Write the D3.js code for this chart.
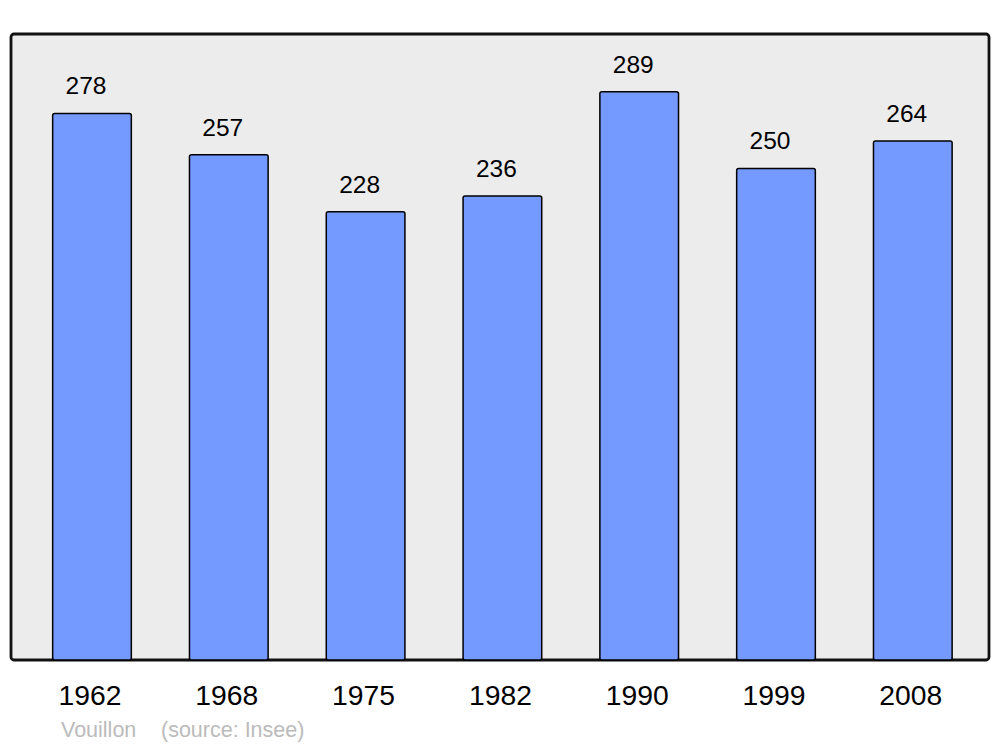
<!DOCTYPE html>
<html>
<head>
<meta charset="utf-8">
<script src="https://cdn.jsdelivr.net/npm/d3@7"></script>
<style>
  body { margin: 0; background: #fff; }
  text { font-family: "Liberation Sans", Arial, sans-serif; }
</style>
</head>
<body>
<div id="chart"></div>
<script>
// data
var years = ["1962", "1968", "1975", "1982", "1990", "1999", "2008"];
var population = [278, 257, 228, 236, 289, 250, 264];
var townName = "Vouillon";
var sourceNote = "(source: Insee)";

var width = 1000, height = 747;

var svg = d3.select("#chart")
  .append("svg")
    .attr("width", width)
    .attr("height", height);

// panel
var panel = {left: 11, top: 34, right: 989, bottom: 660};
svg.append("rect")
  .attr("x", panel.left)
  .attr("y", panel.top)
  .attr("width", panel.right - panel.left)
  .attr("height", panel.bottom - panel.top)
  .attr("rx", 3)
  .attr("fill", "#ececec")
  .attr("stroke", "#111")
  .attr("stroke-width", 2.8);

// scales
var x = d3.scaleBand()
  .domain(years)
  .range([23.6, 981.2])
  .paddingInner(0.425)
  .paddingOuter(0.2125);

var y = d3.scaleLinear()
  .domain([0, 318.4])
  .range([panel.bottom, panel.top]);

var rows = years.map(function(d, i) { return {year: d, value: population[i]}; });

// bars
svg.selectAll(".bar")
  .data(rows)
  .enter().append("rect")
    .attr("class", "bar")
    .attr("x", function(d) { return x(d.year); })
    .attr("y", function(d) { return y(d.value); })
    .attr("width", x.bandwidth())
    .attr("height", function(d) { return y(0) - y(d.value); })
    .attr("rx", 2)
    .attr("fill", "#7499ff")
    .attr("stroke", "#000")
    .attr("stroke-width", 1.5);

// value labels
svg.selectAll(".val")
  .data(rows)
  .enter().append("text")
    .attr("class", "val")
    .attr("x", function(d) { return x(d.year) + x.bandwidth() / 2 - 6; })
    .attr("y", function(d) { return y(d.value) - 19; })
    .attr("text-anchor", "middle")
    .style("font-size", "24.5px")
    .attr("fill", "#000")
    .text(function(d) { return d.value; });

// year labels
svg.selectAll(".year")
  .data(rows)
  .enter().append("text")
    .attr("class", "year")
    .attr("x", function(d) { return x(d.year) + x.bandwidth() / 2 - 2; })
    .attr("y", 705)
    .attr("text-anchor", "middle")
    .style("font-size", "28.3px")
    .attr("fill", "#000")
    .text(function(d) { return d.year; });

// source line
svg.append("text")
  .attr("x", 61)
  .attr("y", 737)
  .style("font-size", "21.5px")
  .attr("fill", "#bbb")
  .text(townName);
svg.append("text")
  .attr("x", 161)
  .attr("y", 737)
  .style("font-size", "21.5px")
  .attr("fill", "#bbb")
  .text(sourceNote);
</script>
</body>
</html>
